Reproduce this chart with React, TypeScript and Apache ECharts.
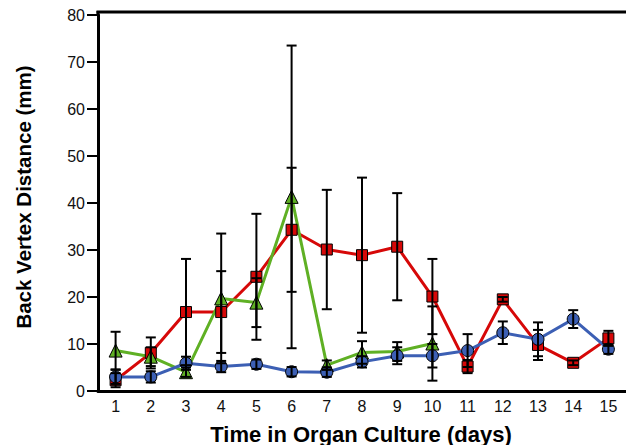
import React, { useEffect, useRef } from "react";
import * as echarts from "echarts";

const days = ["1", "2", "3", "4", "5", "6", "7", "8", "9", "10", "11", "12", "13", "14", "15"];

const redMean = [2.3, 8.1, 16.8, 16.8, 24.3, 34.3, 30.1, 28.9, 30.7, 20.1, 5.2, 19.5, 9.8, 6.0, 11.2];
const redErr = [1.5, 3.3, 11.3, 8.7, 13.4, 13.2, 12.7, 16.5, 11.4, 8.0, 1.4, 0.5, 3.2, 0.5, 1.6];

const greenMean = [8.6, 7.3, 4.0, 19.7, 18.8, 41.3, 5.5, 8.2, 8.4, 10.1];
const greenErr = [4.0, 2.0, 1.0, 13.8, 5.2, 32.2, 1.0, 2.4, 2.0, 7.9];

const blueMean = [3.0, 3.0, 5.9, 5.2, 5.7, 4.1, 4.0, 6.2, 7.5, 7.5, 8.6, 12.4, 11.0, 15.3, 8.9];
const blueErr = [1.5, 1.2, 1.4, 1.2, 1.0, 1.0, 1.0, 1.2, 1.8, 2.5, 3.5, 2.4, 3.6, 1.9, 1.0];

const yTicks = { min: 0, max: 80, interval: 10 };

const RED = "#d60808";
const GREEN = "#5fb024";
const BLUE = "#3c5fb4";
const FONT = "Liberation Sans, Arial, sans-serif";

function errData(mean: number[], err: number[]) {
  return mean.map((m, i) => [i, Math.max(0, m - err[i]), m + err[i]]);
}

export default function App() {
  const ref = useRef<HTMLDivElement>(null);
  useEffect(() => {
    if (!ref.current) return;
    const chart = echarts.init(ref.current, null, { renderer: "svg" });
    const renderErr = (params: any, api: any) => {
      const x = api.value(0);
      const lo = api.coord([x, api.value(1)]);
      const hi = api.coord([x, api.value(2)]);
      const hw = 5;
      const st = { stroke: "#000", lineWidth: 2 };
      return {
        type: "group",
        children: [
          { type: "line", shape: { x1: lo[0], y1: lo[1], x2: hi[0], y2: hi[1] }, style: st },
          { type: "line", shape: { x1: hi[0] - hw, y1: hi[1], x2: hi[0] + hw, y2: hi[1] }, style: st },
          { type: "line", shape: { x1: lo[0] - hw, y1: lo[1], x2: lo[0] + hw, y2: lo[1] }, style: st },
        ],
      };
    };
    const lineSeries = (name: string, data: number[], color: string, symbol: string, size: number) => ({
      name,
      type: "line",
      data,
      symbol,
      symbolSize: size,
      showAllSymbol: true,
      lineStyle: { color, width: 3 },
      itemStyle: { color, borderColor: "#000", borderWidth: 1 },
      z: 2,
    });
    const errSeries = (mean: number[], err: number[]) => ({
      type: "custom",
      renderItem: renderErr,
      data: errData(mean, err),
      z: 3,
      silent: true,
    });
    chart.setOption({
      animation: false,
      backgroundColor: "#fff",
      grid: { left: 98, top: 15, bottom: 54, right: -4 },
      xAxis: {
        type: "category",
        data: days,
        boundaryGap: true,
        axisLine: { lineStyle: { color: "#000", width: 3 } },
        axisTick: { alignWithLabel: true, length: 7, lineStyle: { color: "#000", width: 2 } },
        axisLabel: { color: "#111", fontSize: 16, fontFamily: FONT, margin: 7, interval: 0 },
        splitLine: { show: false },
      },
      yAxis: {
        type: "value",
        min: yTicks.min,
        max: yTicks.max,
        interval: yTicks.interval,
        axisLine: { show: true, lineStyle: { color: "#000", width: 3 } },
        axisTick: { show: true, length: 11, lineStyle: { color: "#000", width: 2 } },
        axisLabel: { color: "#111", fontSize: 16, fontFamily: FONT, margin: 13 },
        splitLine: { show: false },
      },
      graphic: [
        { type: "line", shape: { x1: 96.5, y1: 12, x2: 626, y2: 12 }, style: { stroke: "#000", lineWidth: 3 } },
        { type: "line", shape: { x1: 98, y1: 11, x2: 98, y2: 16 }, style: { stroke: "#000", lineWidth: 3 } },
        {
          type: "text",
          x: 23,
          y: 197,
          rotation: Math.PI / 2,
          style: {
            text: "Back Vertex Distance (mm)",
            fontSize: 20.5,
            fontWeight: "bold",
            fontFamily: FONT,
            fill: "#000",
            align: "center",
            verticalAlign: "middle",
          },
        },
        {
          type: "text",
          x: 361,
          y: 434,
          style: {
            text: "Time in Organ Culture (days)",
            fontSize: 22,
            fontWeight: "bold",
            fontFamily: FONT,
            fill: "#000",
            align: "center",
            verticalAlign: "middle",
          },
        },
      ],
      series: [
        lineSeries("Red", redMean, RED, "rect", 11),
        lineSeries("Green", greenMean, GREEN, "triangle", 13),
        lineSeries("Blue", blueMean, BLUE, "circle", 12),
        errSeries(redMean, redErr),
        errSeries(greenMean, greenErr),
        errSeries(blueMean, blueErr),
      ],
    });
    return () => chart.dispose();
  }, []);
  return <div ref={ref} style={{ width: 626, height: 445, position: "fixed", left: 0, top: 0 }} />;
}
